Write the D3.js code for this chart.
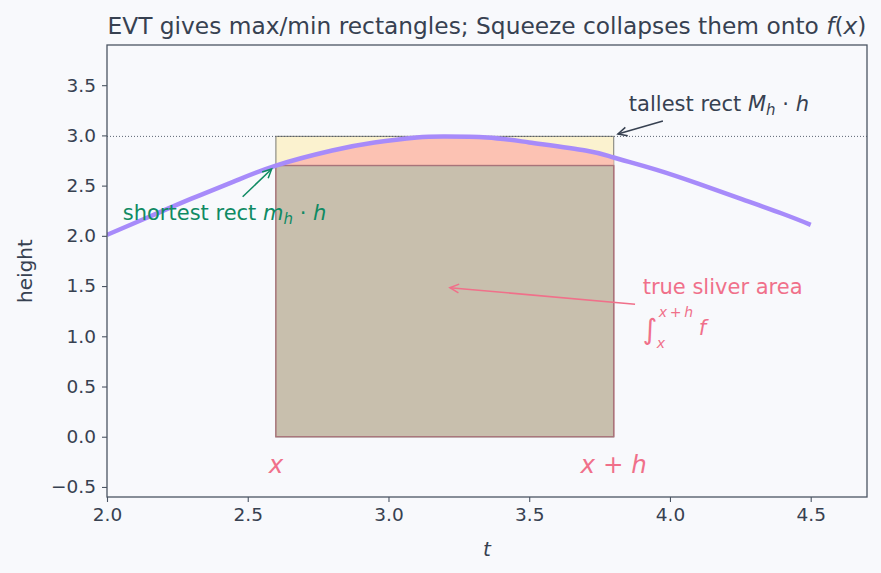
<!DOCTYPE html>
<html>
<head>
<meta charset="utf-8">
<script src="https://cdn.jsdelivr.net/npm/d3@7"></script>
<style>
  html, body { margin: 0; padding: 0; background: #f8f9fc; }
  svg { display: block; font-family: "DejaVu Sans", sans-serif; }
</style>
</head>
<body>
<div id="chart"></div>
<script>
// ---- data ----
const curveT = [2.0, 2.15, 2.3, 2.45, 2.6, 2.8, 2.95, 3.1, 3.2, 3.35, 3.5, 3.7, 3.8, 3.95, 4.1, 4.25, 4.4, 4.5];
const curveF = [2.01, 2.19, 2.37, 2.54, 2.70, 2.85, 2.93, 2.98, 2.99, 2.98, 2.93, 2.85, 2.78, 2.66, 2.52, 2.37, 2.22, 2.11];
const sliverX = [2.6, 3.8];          // x and x + h
const minHeight = 2.70;              // m_h
const maxHeight = 2.99;              // M_h
const xTicks = [2.0, 2.5, 3.0, 3.5, 4.0, 4.5];
const yTicks = [-0.5, 0.0, 0.5, 1.0, 1.5, 2.0, 2.5, 3.0, 3.5];
const xDomain = [2.0, 4.7];
const yDomain = [-0.6, 3.9];

// ---- layout ----
const W = 881, H = 573;
const M = { left: 107, right: 867, top: 45, bottom: 497 };
const C = {
  bg: "#f8f9fc", text: "#374151", spine: "#4b5563",
  curve: "#a78bfa", yellow: "#fbf2cf", salmon: "#fcc2b3", tan: "#c8bfad",
  tallEdge: "#8f8f86", shortEdge: "#a8747a", green: "#0f8a63", pink: "#f0708a"
};

const x = d3.scaleLinear().domain(xDomain).range([M.left, M.right]);
const y = d3.scaleLinear().domain(yDomain).range([M.bottom, M.top]);

const svg = d3.select("#chart").append("svg").attr("width", W).attr("height", H);
svg.append("rect").attr("width", W).attr("height", H).attr("fill", C.bg);

const pts = curveT.map((t, i) => [t, curveF[i]]);

const defs = svg.append("defs");
defs.append("clipPath").attr("id", "plotclip").append("rect")
  .attr("x", M.left).attr("y", M.top).attr("width", M.right - M.left).attr("height", M.bottom - M.top);
defs.append("clipPath").attr("id", "sliverclip").append("rect")
  .attr("x", x(sliverX[0])).attr("y", M.top)
  .attr("width", x(sliverX[1]) - x(sliverX[0])).attr("height", M.bottom - M.top);

const g = svg.append("g").attr("clip-path", "url(#plotclip)");

// tallest rect
g.append("rect")
  .attr("x", x(sliverX[0])).attr("y", y(maxHeight))
  .attr("width", x(sliverX[1]) - x(sliverX[0])).attr("height", y(0) - y(maxHeight))
  .attr("fill", C.yellow).attr("stroke", C.tallEdge).attr("stroke-width", 1.2);

// true area under curve
const area = d3.area().x(d => x(d[0])).y0(y(0)).y1(d => y(d[1])).curve(d3.curveNatural);
g.append("path").datum(pts).attr("d", area).attr("fill", C.salmon)
  .attr("clip-path", "url(#sliverclip)");
g.append("line")
  .attr("x1", x(sliverX[1])).attr("x2", x(sliverX[1]))
  .attr("y1", y(0)).attr("y2", y(minHeight))
  .attr("stroke", "#e890a0").attr("stroke-width", 1.4);

// shortest rect
g.append("rect")
  .attr("x", x(sliverX[0])).attr("y", y(minHeight))
  .attr("width", x(sliverX[1]) - x(sliverX[0])).attr("height", y(0) - y(minHeight))
  .attr("fill", C.tan).attr("stroke", C.shortEdge).attr("stroke-width", 1.4);

// dotted M_h line
g.append("line")
  .attr("x1", M.left).attr("x2", M.right)
  .attr("y1", y(maxHeight)).attr("y2", y(maxHeight))
  .attr("stroke", "#4b5563").attr("stroke-width", 0.9).attr("stroke-dasharray", "1,2");

// curve
const line = d3.line().x(d => x(d[0])).y(d => y(d[1])).curve(d3.curveNatural);
g.append("path").datum(pts).attr("d", line)
  .attr("fill", "none").attr("stroke", C.curve).attr("stroke-width", 4.5);

// ---- axes ----
const xAxis = d3.axisBottom(x).tickValues(xTicks).tickFormat(d3.format(".1f")).tickSizeOuter(0).tickSize(5).tickPadding(6);
const yAxis = d3.axisLeft(y).tickValues(yTicks).tickFormat(d => d3.format(".1f")(d).replace("-", "\u2212")).tickSizeOuter(0).tickSize(5).tickPadding(6);

const gx = svg.append("g").attr("transform", `translate(0,${M.bottom})`).call(xAxis);
const gy = svg.append("g").attr("transform", `translate(${M.left},0)`).call(yAxis);
[gx, gy].forEach(a => {
  a.select(".domain").remove();
  a.selectAll(".tick line").attr("stroke", C.spine).attr("stroke-width", 1.1);
  a.selectAll(".tick text").attr("fill", C.text).attr("font-size", 18.5)
    .attr("font-family", "DejaVu Sans");
});

// spines
svg.append("rect").attr("x", M.left).attr("y", M.top)
  .attr("width", M.right - M.left).attr("height", M.bottom - M.top)
  .attr("fill", "none").attr("stroke", C.spine).attr("stroke-width", 1.3);

// axis labels
svg.append("text").attr("x", (M.left + M.right) / 2).attr("y", 556)
  .attr("text-anchor", "middle").attr("font-size", 20).attr("font-style", "italic")
  .attr("fill", C.text).text("t");
svg.append("text").attr("transform", `translate(32,${(M.top + M.bottom) / 2}) rotate(-90)`)
  .attr("text-anchor", "middle").attr("font-size", 20).attr("fill", C.text).text("height");

// title
const title = svg.append("text").attr("x", (M.left + M.right) / 2).attr("y", 34)
  .attr("text-anchor", "middle").attr("font-size", 23.3).attr("fill", C.text);
title.append("tspan").text("EVT gives max/min rectangles; Squeeze collapses them onto ");
title.append("tspan").attr("font-style", "italic").text("f");
title.append("tspan").text("(");
title.append("tspan").attr("font-style", "italic").text("x");
title.append("tspan").text(")");

// ---- annotations ----
function arrow(x0, y0, x1, y1, color) {
  const X0 = x(x0), Y0 = y(y0), X1 = x(x1), Y1 = y(y1);
  svg.append("line").attr("x1", X0).attr("y1", Y0).attr("x2", X1).attr("y2", Y1)
    .attr("stroke", color).attr("stroke-width", 1.5);
  const ang = Math.atan2(Y1 - Y0, X1 - X0), L = 10, a = 0.45;
  const p = [[X1 - L * Math.cos(ang - a), Y1 - L * Math.sin(ang - a)], [X1, Y1],
             [X1 - L * Math.cos(ang + a), Y1 - L * Math.sin(ang + a)]];
  svg.append("path").attr("d", d3.line()(p)).attr("fill", "none")
    .attr("stroke", color).attr("stroke-width", 1.5);
}

const FS = 21;
// tallest rect
arrow(3.975, 3.143, 3.815, 3.014, "#374151");
const t1 = svg.append("text").attr("x", x(3.854)).attr("y", y(3.246))
  .attr("font-size", FS).attr("fill", C.text);
t1.append("tspan").text("tallest rect ");
t1.append("tspan").attr("font-style", "italic").text("M");
t1.append("tspan").attr("font-style", "italic").attr("font-size", 15).attr("dy", 4).text("h");
t1.append("tspan").attr("dy", -4).text(" \u00b7 ");
t1.append("tspan").attr("font-style", "italic").text("h");

// shortest rect
arrow(2.482, 2.39, 2.585, 2.666, C.green);
const t2 = svg.append("text").attr("x", x(2.056)).attr("y", y(2.158))
  .attr("font-size", FS).attr("fill", C.green);
t2.append("tspan").text("shortest rect ");
t2.append("tspan").attr("font-style", "italic").text("m");
t2.append("tspan").attr("font-style", "italic").attr("font-size", 15).attr("dy", 4).text("h");
t2.append("tspan").attr("dy", -4).text(" \u00b7 ");
t2.append("tspan").attr("font-style", "italic").text("h");

// true sliver area
arrow(3.876, 1.319, 3.218, 1.484, C.pink);
svg.append("text").attr("x", x(3.903)).attr("y", y(1.418))
  .attr("font-size", FS).attr("fill", C.pink).text("true sliver area");
const ix = x(3.903), iy = y(1.013);
svg.append("text").attr("x", ix).attr("y", iy + 4).attr("font-size", 28)
  .attr("fill", C.pink).text("\u222b");
svg.append("text").attr("x", ix + 16).attr("y", iy - 18).attr("font-size", 14)
  .attr("font-style", "italic").attr("fill", C.pink).text("x\u2009+\u2009h");
svg.append("text").attr("x", ix + 14).attr("y", iy + 13).attr("font-size", 14)
  .attr("font-style", "italic").attr("fill", C.pink).text("x");
svg.append("text").attr("x", ix + 56).attr("y", iy).attr("font-size", FS)
  .attr("font-style", "italic").attr("fill", C.pink).text("f");

// x and x + h labels
svg.append("text").attr("x", x(sliverX[0])).attr("y", y(-0.361))
  .attr("text-anchor", "middle").attr("font-size", 24.5).attr("font-style", "italic")
  .attr("fill", C.pink).text("x");
svg.append("text").attr("x", x(sliverX[1])).attr("y", y(-0.361))
  .attr("text-anchor", "middle").attr("font-size", 24.5).attr("font-style", "italic")
  .attr("fill", C.pink).text("x + h");
</script>
</body>
</html>
